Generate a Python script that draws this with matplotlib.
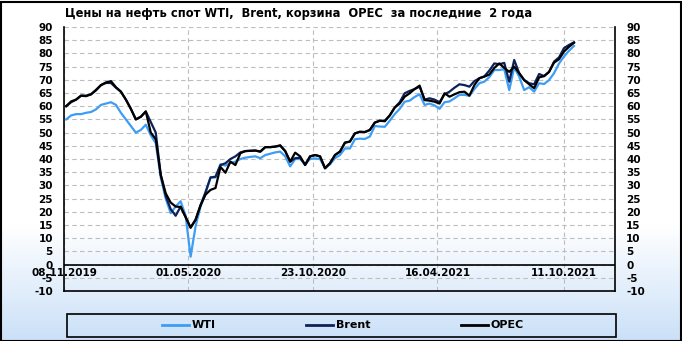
import numpy as np
import pandas as pd
import matplotlib
matplotlib.use('Agg')
from matplotlib import pyplot as plt
from matplotlib.patches import Rectangle

plt.rcParams['axes.unicode_minus'] = False

# weekly prices, USD/bbl
dates = pd.date_range('2019-11-11', periods=103, freq='7D')

wti = [55, 56.5, 57, 57, 57.5, 57.8, 58.8, 60.5, 61, 61.5,
       60.5, 57.5, 55, 52.5, 50, 51, 53, 49, 46, 33,
       25, 19.5, 22, 24, 18.5, 3, 14.5, 22, 27, 33,
       33, 38, 37.5, 38.5, 39, 40, 40.5, 40.8, 41, 40.3,
       41.5, 42, 42.5, 42.8, 41, 37.2, 40, 40, 38, 40,
       40.2, 40, 36.5, 38, 40.3, 41.5, 44, 44, 47.5, 47.7,
       47.6, 48.5, 52.5, 52.3, 52.2, 54.5, 57, 59, 61.7, 62.1,
       63.5, 64.5, 60.5, 61, 60.3, 59, 61.5, 61.8, 63, 64.3,
       64.3, 63.9, 66.5, 68.7, 69.3, 71, 73.7, 73.7, 74, 66.1,
       74.7, 71.2, 66.1, 67.2, 65.5, 68.7, 68.4, 69.9, 72.5, 76.2,
       78.8, 81, 82.8]

brent = [60, 61.5, 62.5, 64, 64, 64.5, 66, 68, 68.8, 68.8,
         67, 65.5, 62.5, 59, 55, 56, 58, 54, 50, 34,
         26, 21, 18.5, 22, 18, 14, 17, 22.5, 27.5, 33,
         33.3, 37.7, 38.4, 40, 41, 42.5, 43, 43.1, 43.2, 42.8,
         44.5, 44.5, 44.7, 45, 43, 39, 40.3, 40.5, 37.8, 41,
         41.5, 41, 36.5, 38.4, 41.5, 42.8, 46.2, 46.6, 49.7, 50.3,
         50.2, 51, 53.8, 54.5, 54.5, 56.5, 59.5, 61.5, 64.9, 65.8,
         66.5, 67.4, 62.5, 63, 62.5, 61.5, 64.5, 65.5, 67, 68.3,
         68, 67.4, 69.5, 70.6, 71.3, 73.5, 76.2, 75.9, 76.4, 69.3,
         77.5, 72.5, 69.9, 68.7, 68.3, 72.2, 71.4, 73, 76.9, 78.5,
         82, 83.2, 84.2]

opec = [60, 61.8, 62.5, 64, 63.8, 64.5, 66.2, 68, 69, 69.5,
        67.2, 65.5, 62.5, 59, 55, 56, 58, 50, 47.5, 34,
        27, 23.5, 22, 21.8, 18, 14, 17, 22.5, 26.5, 28.3,
        29, 37, 34.8, 39, 37.7, 42.2, 43, 43.1, 43.2, 42.8,
        44.5, 44.5, 44.7, 45.2, 43, 39, 42.4, 41, 37.7, 41,
        41.5, 41, 36.5, 38.4, 41.5, 42.8, 46.2, 46.6, 49.7, 50.3,
        50.2, 51, 53.8, 54.5, 54.3, 56.5, 59.5, 61, 63.6, 64.9,
        66.5, 67.8, 62.3, 62.1, 61.7, 61, 64.9, 63.6, 64.5, 65.3,
        65.5, 64, 68, 70.6, 71.2, 72, 74.5, 76.2, 74.5, 73,
        75, 72.5, 69.9, 68.3, 66.8, 70.9, 71.4, 73, 76.5, 77.8,
        80.7, 82.5, 84]

tick_dates = pd.to_datetime(['2019-11-08', '2020-05-01', '2020-10-23',
                             '2021-04-16', '2021-10-11'])
tick_labels = [d.strftime('%d.%m.%Y') for d in tick_dates]

title = 'Цены на нефть спот WTI,  Brent, корзина  OPEC  за последние  2 года'

W, H = 682, 341
fig = plt.figure(figsize=(W / 100, H / 100), dpi=100)

# background gradient (white -> light blue at the bottom)
bg = fig.add_axes([0, 0, 1, 1], zorder=-10)
bg.axis('off')
rows = np.arange(H)
t = np.clip((rows - 225) / (H - 225), 0, 1)
top_c = np.array([1.0, 1.0, 1.0])
bot_c = np.array([202, 224, 248]) / 255
grad = top_c[None, :] * (1 - t[:, None]) + bot_c[None, :] * t[:, None]
bg.imshow(grad[:, None, :].repeat(4, axis=1), aspect='auto',
          extent=[0, 1, 0, 1], origin='upper')
bg.set_xlim(0, 1)
bg.set_ylim(0, 1)

L, R, T, B = 64, 615, 27, 291
ax = fig.add_axes([L / W, 1 - B / H, (R - L) / W, (B - T) / H])
ax.patch.set_alpha(0)

ax.plot(dates, wti, color='#3d9df5', lw=1.6, label='WTI', zorder=3)
ax.plot(dates, brent, color='#0d2157', lw=1.6, label='Brent', zorder=4)
ax.plot(dates, opec, color='#000000', lw=1.6, label='OPEC', zorder=5)

x0 = pd.Timestamp('2019-11-08')
ax.set_xlim(x0, x0 + pd.Timedelta(days=774.7))
ax.set_ylim(-10, 90)
ax.set_yticks(np.arange(-10, 91, 5))
ax.set_xticks(tick_dates)
ax.set_xticklabels(tick_labels)

ax.grid(True, axis='both', color='#bdbdbd', ls=(0, (4, 3)), lw=0.8, zorder=1)
ax.axhline(0, color='black', lw=1.2, zorder=2)

for s in ['left', 'right', 'bottom']:
    ax.spines[s].set_linewidth(1.2)
ax.spines['top'].set_visible(False)

ax.tick_params(axis='y', length=0, pad=8, labelsize=7.5,
               labelright=True, right=False)
ax.tick_params(axis='x', length=0, pad=-16.5, labelsize=7.5)
for lab in ax.get_yticklabels() + ax.get_xticklabels():
    lab.set_fontweight('bold')

fig.text(65 / W, 1 - 14 / H, title, fontsize=8.3, fontweight='bold',
         ha='left', va='center')

# legend box
fig.patches.append(Rectangle((67 / W, 1 - 337 / H), (616 - 67) / W, (337 - 314) / H,
                             transform=fig.transFigure, fill=False,
                             edgecolor='black', lw=1.2))
leg = fig.legend(loc='center', bbox_to_anchor=(343 / W, 1 - 325.5 / H),
                 ncol=3, frameon=False, handlelength=2.4, handletextpad=0.25,
                 columnspacing=8.2,
                 prop={'family': ['Liberation Sans Narrow', 'DejaVu Sans'],
                       'weight': 'bold', 'size': 8})
for line in leg.get_lines():
    line.set_linewidth(2)

# outer border
fig.patches.append(Rectangle((0.5 / W, 0.5 / H), (W - 2) / W, (H - 2) / H,
                             transform=fig.transFigure, fill=False,
                             edgecolor='black', lw=1.5))

fig.savefig('out.png', dpi=100)
